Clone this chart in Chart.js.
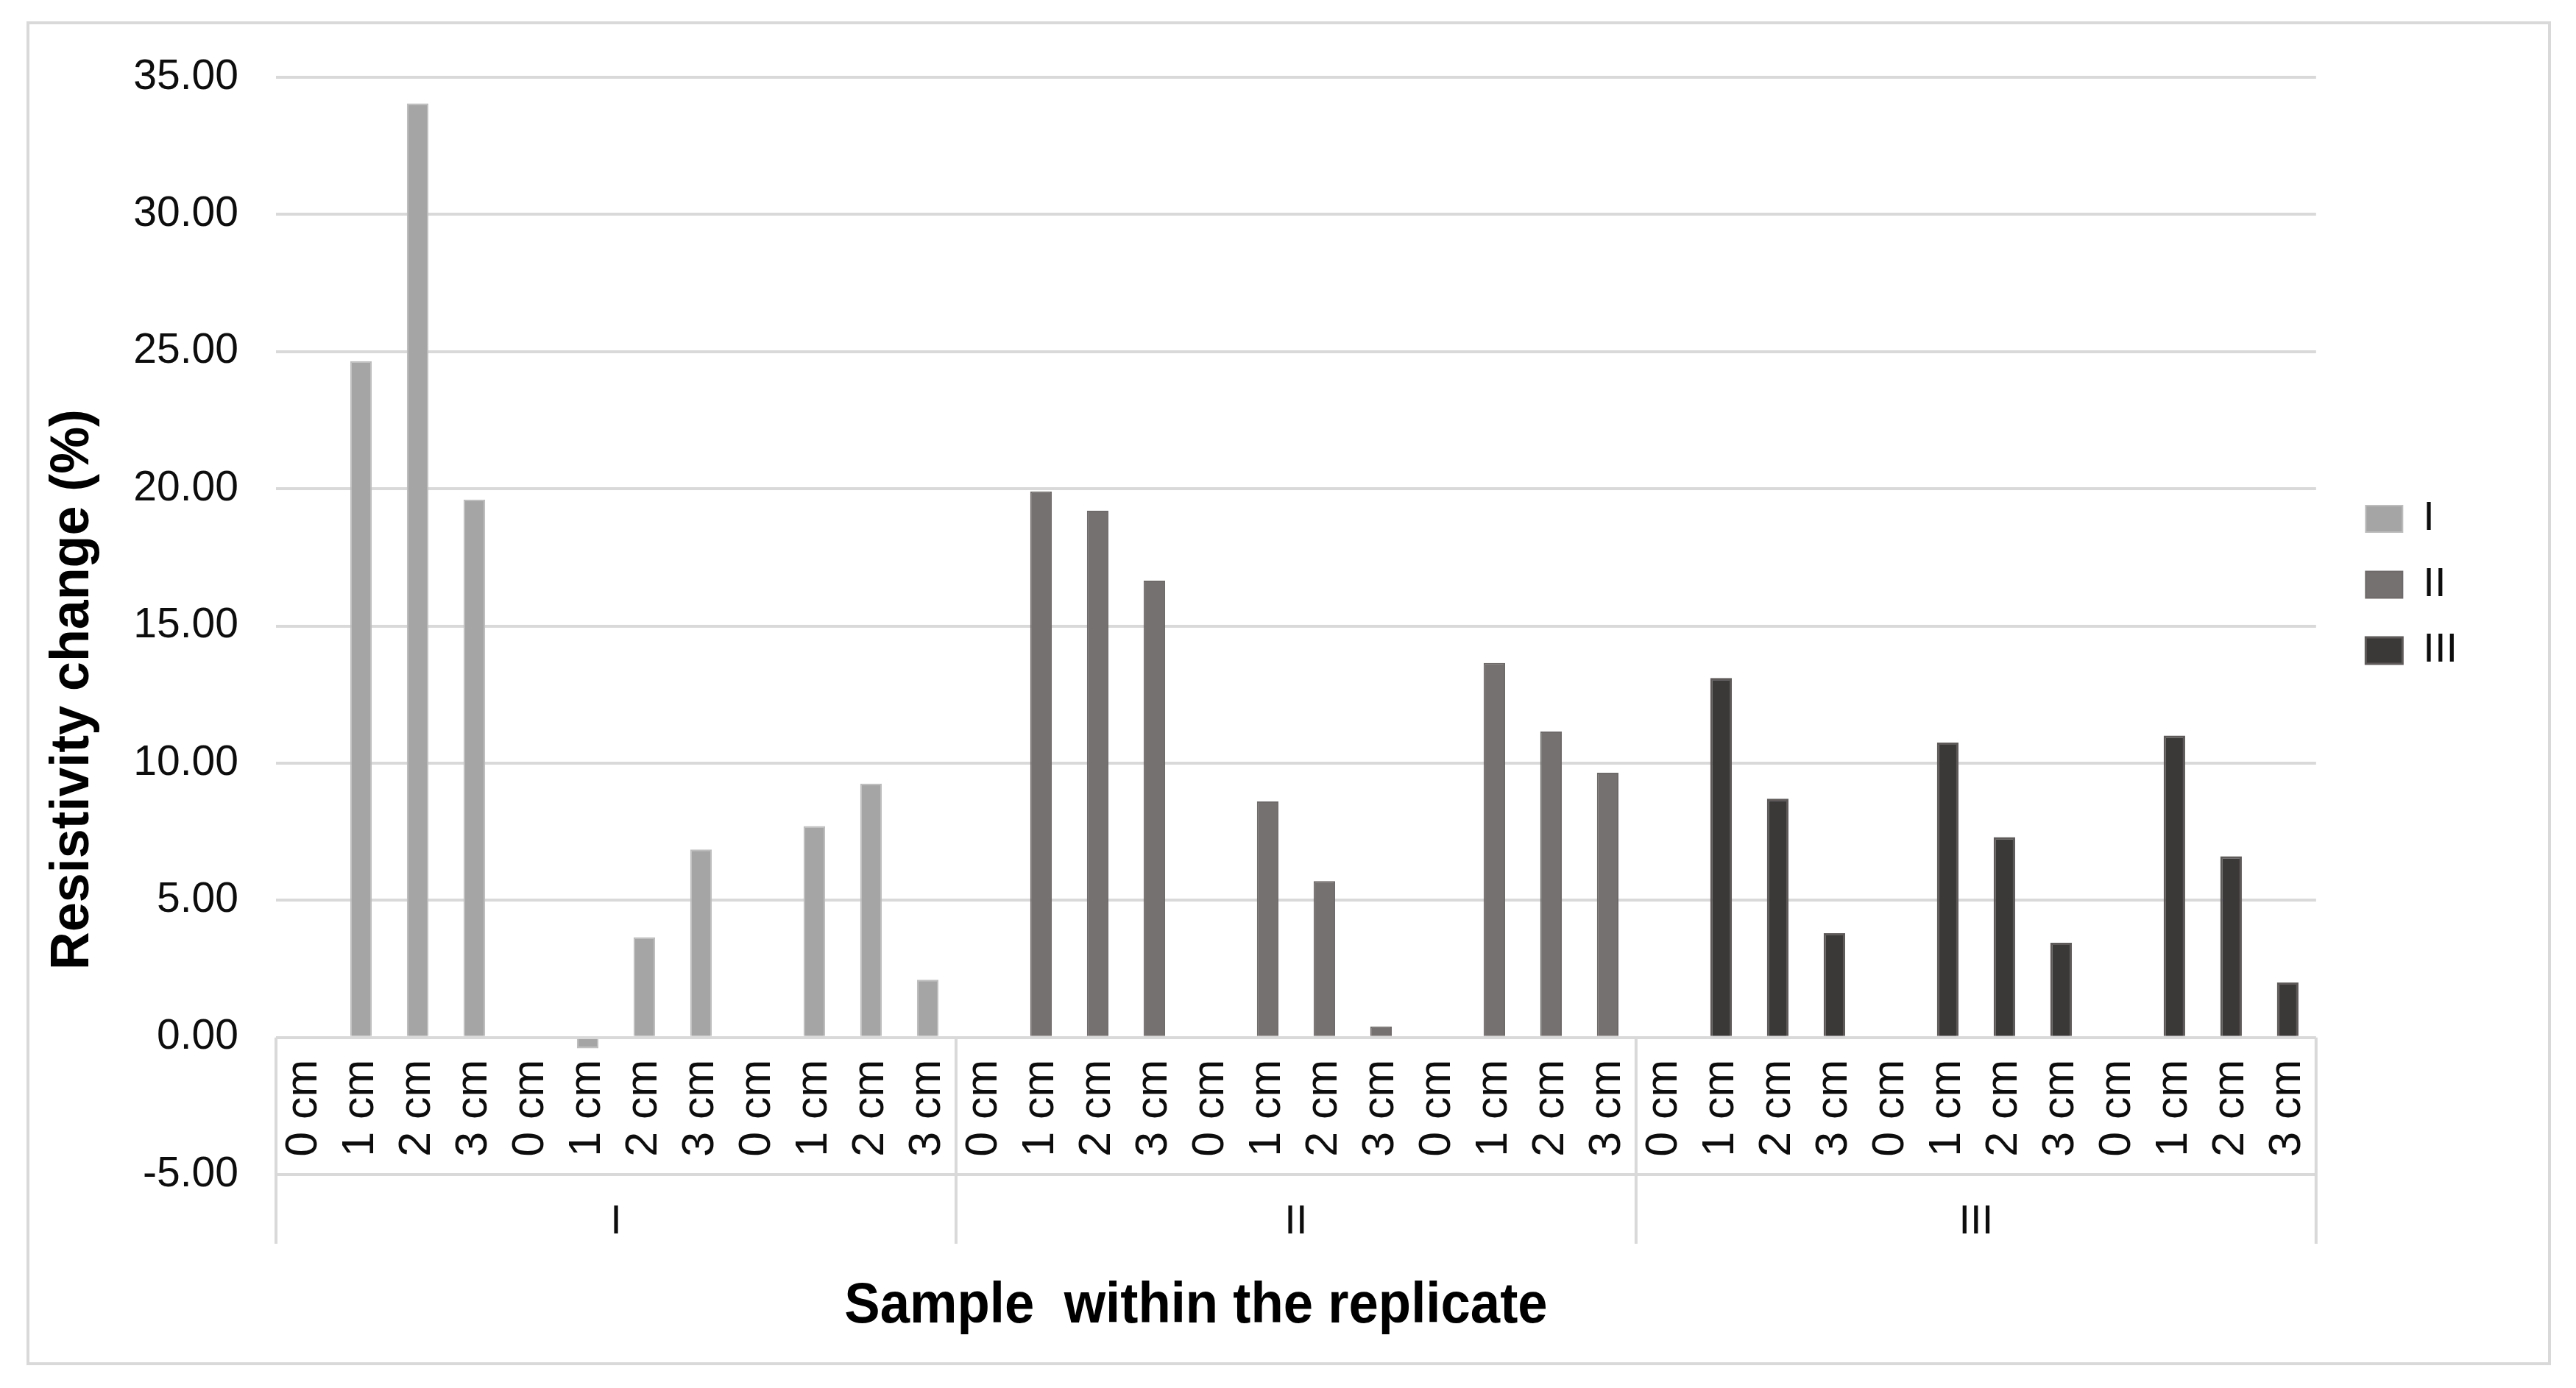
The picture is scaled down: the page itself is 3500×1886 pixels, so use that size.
<!DOCTYPE html>
<html>
<head>
<meta charset="utf-8">
<script src="https://cdn.jsdelivr.net/npm/chart.js@4.4.1/dist/chart.umd.min.js"></script>
<style>
  html, body { margin: 0; padding: 0; background: #fff; }
  canvas { display: block; }
</style>
</head>
<body>
<canvas id="resistivityChart" width="3500" height="1886"></canvas>
<script>
const depthLabels = ['0 cm', '1 cm', '2 cm', '3 cm'];
const replicateLabels = ['I', 'II', 'III'];
const samplesPerReplicate = 3;

// resistivity change (%) of every sample, in axis order within each replicate
const replicateI = [0, 24.65, 34.05, 19.6, 0, -0.4, 3.65, 6.85, 0, 7.7, 9.25, 2.1];
const replicateII = [0, 19.9, 19.2, 16.65, 0, 8.6, 5.7, 0.4, 0, 13.65, 11.15, 9.65];
const replicateIII = [0, 13.1, 8.7, 3.8, 0, 10.75, 7.3, 3.45, 0, 11.0, 6.6, 2.0];

const yMin = -5;
const yMax = 35;
const yStep = 5;

const textColor = '#0d0d0d';
const lineColor = '#d9d9d9';
Chart.defaults.font.family = '"Liberation Sans", Arial, sans-serif';
Chart.defaults.color = textColor;

const perReplicate = depthLabels.length * samplesPerReplicate;
const categories = [];
replicateLabels.forEach(() => {
  for (let s = 0; s < samplesPerReplicate; s++) categories.push(...depthLabels);
});

// put one replicate's values into its slot of the full category axis
function place(values, slot) {
  const out = new Array(categories.length).fill(null);
  values.forEach((v, i) => { out[slot * perReplicate + i] = v; });
  return out;
}

const frame = {
  id: 'frame',
  afterDraw(chart) {
    const {ctx, scales: {x, y, x2}} = chart;
    ctx.save();
    ctx.strokeStyle = lineColor;
    ctx.lineWidth = 4;
    ctx.strokeRect(38, 31, 3426, 1822);

    // dividers of the two label tiers
    const top = y.getPixelForValue(0);
    const bottom = x2.bottom;
    for (let g = 0; g <= replicateLabels.length; g++) {
      const px = x.getPixelForValue(g * perReplicate - 0.5);
      ctx.beginPath();
      ctx.moveTo(px, top);
      ctx.lineTo(px, bottom);
      ctx.stroke();
    }

    ctx.fillStyle = '#000';
    ctx.textAlign = 'center';
    ctx.textBaseline = 'middle';

    ctx.save();
    ctx.translate(100, 937);
    ctx.rotate(-Math.PI / 2);
    ctx.scale(0.97, 1);
    ctx.font = 'bold 74px "Liberation Sans", Arial, sans-serif';
    ctx.fillText('Resistivity change (%)', 0, 0);
    ctx.restore();

    ctx.save();
    ctx.translate(1625, 1775);
    ctx.scale(0.93, 1);
    ctx.font = 'bold 78px "Liberation Sans", Arial, sans-serif';
    ctx.fillText('Sample  within the replicate', 0, 0);
    ctx.restore();

    ctx.restore();
  }
};

new Chart(document.getElementById('resistivityChart'), {
  type: 'bar',
  data: {
    labels: categories,
    datasets: [
      {
        label: 'I',
        data: place(replicateI, 0),
        backgroundColor: '#a5a5a5',
        borderColor: '#bdbdbd',
        borderWidth: 2,
        xAxisID: 'x',
        yAxisID: 'y'
      },
      {
        label: 'II',
        data: place(replicateII, 1),
        backgroundColor: '#767171',
        borderColor: '#6e6a69',
        borderWidth: 2,
        xAxisID: 'x',
        yAxisID: 'y'
      },
      {
        label: 'III',
        data: place(replicateIII, 2),
        backgroundColor: '#3b3838',
        borderColor: '#5e5a59',
        borderWidth: 3,
        xAxisID: 'x',
        yAxisID: 'y'
      }
    ]
  },
  options: {
    responsive: false,
    devicePixelRatio: 1,
    animation: false,
    barPercentage: 0.38,
    categoryPercentage: 1.0,
    layout: { padding: { left: 0, top: 105, right: 151, bottom: 196 } },
    plugins: {
      tooltip: { enabled: false },
      legend: {
        position: 'right',
        align: 'start',
        title: { display: true, text: '', padding: { top: 524, bottom: 0 }, font: { size: 12 } },
        labels: {
          boxWidth: 50,
          boxHeight: 36,
          padding: 33.5,
          color: textColor,
          font: { size: 56 }
        }
      }
    },
    scales: {
      x: {
        type: 'category',
        position: { y: 0 },
        stacked: true,
        offset: true,
        grid: { display: false, drawTicks: false },
        border: { display: false },
        ticks: {
          autoSkip: false,
          minRotation: 90,
          maxRotation: 90,
          padding: 30,
          color: textColor,
          font: { size: 61 }
        }
      },
      x2: {
        type: 'category',
        labels: replicateLabels,
        position: 'bottom',
        bounds: 'ticks',
        offset: true,
        grid: { display: false, drawTicks: false },
        border: { display: false },
        ticks: { padding: 31, color: textColor, font: { size: 56 } },
        afterFit(scale) { scale.height = 94; }
      },
      y: {
        type: 'linear',
        position: 'left',
        stacked: true,
        min: yMin,
        max: yMax,
        grid: { color: lineColor, lineWidth: 4, drawTicks: false },
        border: { display: false },
        ticks: {
          stepSize: yStep,
          padding: 51,
          color: textColor,
          font: { size: 57 },
          callback: v => v.toFixed(2)
        },
        afterFit(scale) { scale.width = 375; }
      },
      y2: {
        type: 'linear',
        position: 'right',
        grid: { display: false },
        border: { display: false },
        ticks: { display: false },
        afterFit(scale) { scale.width = 34; }
      }
    }
  },
  plugins: [frame]
});
</script>
</body>
</html>
